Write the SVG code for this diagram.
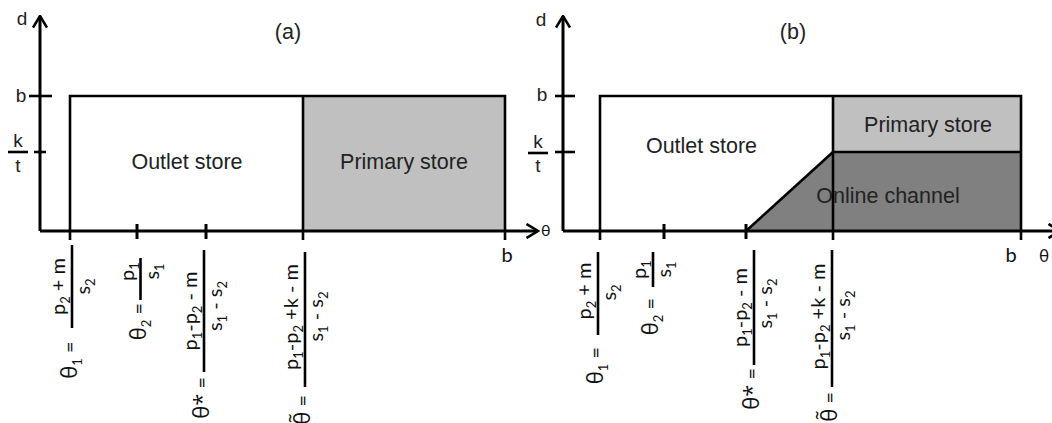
<svg xmlns="http://www.w3.org/2000/svg" width="1052" height="423" viewBox="0 0 1052 423">
<defs>
<style>
.ax{stroke:#000;stroke-width:3;fill:none}
.bd{stroke:#000;stroke-width:2.6;fill:none}
.tk{stroke:#000;stroke-width:3}
.fl{stroke:#000;stroke-width:2.6}
.lbl{font-family:"Liberation Sans",Arial,sans-serif;font-size:21.5px;fill:#222}
.axl{font-family:"Liberation Sans",Arial,sans-serif;font-size:19px;fill:#222}
.eq{font-family:Lato,"Open Sans","DejaVu Sans",sans-serif;font-size:20px;fill:#111}
.th{font-family:"Open Sans","DejaVu Sans",sans-serif;font-size:22px}
.sub{font-size:13px}
.light{fill:#c0c0c0}
.dark{fill:#808080}
</style>
<marker id="arr" viewBox="0 0 14 16" markerWidth="14" markerHeight="16" refX="12.5" refY="8" orient="auto" markerUnits="userSpaceOnUse">
<path d="M1,1 L12.5,8 L1,15" fill="none" stroke="#000" stroke-width="2.6"/>
</marker>
</defs>
<rect width="1052" height="423" fill="#fff"/>

<!-- Panel (a) -->
<g id="panel-a">
<g id="primary-a"><rect class="light" x="303" y="96" width="202" height="135"/></g>
<g id="outlet-a"><text class="lbl" x="187" y="169" text-anchor="middle">Outlet store</text></g>
<text class="lbl" x="404" y="169" text-anchor="middle">Primary store</text>
<g id="axes-a">
<line class="ax" x1="40" y1="231" x2="40" y2="16" marker-end="url(#arr)"/>
<line class="ax" x1="40" y1="231" x2="538" y2="231" marker-end="url(#arr)"/>
</g>
<g id="borders-a">
<polyline class="bd" points="70,240 70,96 505,96 505,240"/>
<line class="bd" x1="303" y1="96" x2="303" y2="240"/>
<line class="tk" x1="137" y1="224" x2="137" y2="239"/>
<line class="tk" x1="206" y1="224" x2="206" y2="239"/>
<line class="fl" x1="29" y1="96" x2="52" y2="96"/>
<line class="fl" x1="34" y1="152" x2="46" y2="152"/>
</g>
<text class="lbl" x="288" y="39" text-anchor="middle">(a)</text>
<text class="axl" x="22" y="25" text-anchor="middle">d</text>
<text class="axl" x="21" y="102" text-anchor="middle">b</text>
<text class="axl" x="18" y="147" text-anchor="middle">k</text>
<line class="fl" x1="8" y1="152" x2="28" y2="152"/>
<text class="axl" x="18" y="172" text-anchor="middle">t</text>
<text class="eq" x="541" y="236" style="font-size:16px">θ</text>
<text class="eq" x="507" y="262" text-anchor="middle">b</text>

<g id="theta1-a" transform="translate(72,286.5) rotate(-90)">
<line class="fl" x1="-41.5" y1="0" x2="41.5" y2="0"/>
<text class="eq" x="0" y="-7" text-anchor="middle">p<tspan class="sub" dy="5">2</tspan><tspan dy="-5"> + m</tspan></text>
<text class="eq" x="0" y="18" text-anchor="middle">s<tspan class="sub" dy="5">2</tspan></text>
<text class="eq" x="-55" y="5" text-anchor="end"><tspan class="th">θ</tspan><tspan class="sub" dy="5">1</tspan><tspan dy="-5"> =</tspan></text>
</g>
<g id="theta2-a" transform="translate(140.5,279) rotate(-90)">
<line class="fl" x1="-21" y1="0" x2="21" y2="0"/>
<text class="eq" x="7.5" y="-7" text-anchor="middle">p<tspan class="sub" dy="5">1</tspan></text>
<text class="eq" x="7.5" y="18" text-anchor="middle">s<tspan class="sub" dy="5">1</tspan></text>
<text class="eq" x="-24" y="5" text-anchor="end"><tspan class="th">θ</tspan><tspan class="sub" dy="5">2</tspan><tspan dy="-5"> =</tspan></text>
</g>
<g id="thetastar-a" transform="translate(204,311) rotate(-90)">
<line class="fl" x1="-61" y1="0" x2="61" y2="0"/>
<text class="eq" x="0" y="-7" text-anchor="middle">p<tspan class="sub" dy="5">1</tspan><tspan dy="-5">-p</tspan><tspan class="sub" dy="5">2</tspan><tspan dy="-5"> - m</tspan></text>
<text class="eq" x="5" y="18" text-anchor="middle">s<tspan class="sub" dy="5">1</tspan><tspan dy="-5"> - s</tspan><tspan class="sub" dy="5">2</tspan></text>
<text class="eq" x="-66" y="5" text-anchor="end"><tspan class="th">θ*</tspan> =</text>
</g>
<g id="thetatilde-a" transform="translate(305,319.5) rotate(-90)">
<line class="fl" x1="-67.5" y1="0" x2="67.5" y2="0"/>
<text class="eq" x="2.5" y="-7" text-anchor="middle">p<tspan class="sub" dy="5">1</tspan><tspan dy="-5">-p</tspan><tspan class="sub" dy="5">2</tspan><tspan dy="-5"> +k - m</tspan></text>
<text class="eq" x="3" y="18" text-anchor="middle">s<tspan class="sub" dy="5">1</tspan><tspan dy="-5"> - s</tspan><tspan class="sub" dy="5">2</tspan></text>
<text class="eq" x="-75.5" y="5" text-anchor="end"><tspan class="th">θ̃</tspan> =</text>
</g>
</g>

<!-- Panel (b) -->
<g id="panel-b">
<g id="primary-b"><rect class="light" x="833" y="96" width="188" height="56"/><text class="lbl" x="928" y="132" text-anchor="middle">Primary store</text></g>
<g id="online-b"><polygon class="dark" points="746,231 833,152 1021,152 1021,231"/><text class="lbl" x="888" y="203" text-anchor="middle">Online channel</text></g>
<g id="outlet-b"><text class="lbl" x="701.5" y="153" text-anchor="middle">Outlet store</text></g>
<g id="axes-b">
<line class="ax" x1="563" y1="231" x2="563" y2="16" marker-end="url(#arr)"/>
<line class="ax" x1="563" y1="231" x2="1060" y2="231" marker-end="url(#arr)"/>
</g>
<g id="borders-b">
<polyline class="bd" points="600,240 600,96 1021,96 1021,240"/>
<line class="bd" x1="833" y1="96" x2="833" y2="240"/>
<line class="bd" x1="833" y1="152" x2="1021" y2="152"/>
<line class="bd" x1="746" y1="231" x2="833" y2="152"/>
<line class="tk" x1="664" y1="224" x2="664" y2="239"/>
<line class="tk" x1="746" y1="224" x2="746" y2="239"/>
<line class="fl" x1="555" y1="96" x2="575" y2="96"/>
<line class="fl" x1="555" y1="152" x2="575" y2="152"/>
</g>
<text class="lbl" x="793" y="39" text-anchor="middle">(b)</text>
<text class="axl" x="541" y="26" text-anchor="middle">d</text>
<text class="axl" x="542" y="101" text-anchor="middle">b</text>
<text class="axl" x="538" y="148" text-anchor="middle">k</text>
<line class="fl" x1="528" y1="153" x2="548" y2="153"/>
<text class="axl" x="538" y="172" text-anchor="middle">t</text>
<text class="eq" x="1039" y="262" style="font-size:17px">θ</text>
<text class="eq" x="1011" y="262" text-anchor="middle">b</text>

<g id="theta1-b" transform="translate(598,293.5) rotate(-90)">
<line class="fl" x1="-41.5" y1="0" x2="41.5" y2="0"/>
<text class="eq" x="2.5" y="-7" text-anchor="middle">p<tspan class="sub" dy="5">2</tspan><tspan dy="-5"> + m</tspan></text>
<text class="eq" x="1" y="18" text-anchor="middle">s<tspan class="sub" dy="5">2</tspan></text>
<text class="eq" x="-53.5" y="5" text-anchor="end"><tspan class="th">θ</tspan><tspan class="sub" dy="5">1</tspan><tspan dy="-5"> =</tspan></text>
</g>
<g id="theta2-b" transform="translate(653,269.5) rotate(-90)">
<line class="fl" x1="-17.5" y1="0" x2="17.5" y2="0"/>
<text class="eq" x="0" y="-7" text-anchor="middle">p<tspan class="sub" dy="5">1</tspan></text>
<text class="eq" x="0" y="18" text-anchor="middle">s<tspan class="sub" dy="5">1</tspan></text>
<text class="eq" x="-28.5" y="5" text-anchor="end"><tspan class="th">θ</tspan><tspan class="sub" dy="5">2</tspan><tspan dy="-5"> =</tspan></text>
</g>
<g id="thetastar-b" transform="translate(754,307.5) rotate(-90)">
<line class="fl" x1="-57.5" y1="0" x2="57.5" y2="0"/>
<text class="eq" x="0" y="-7" text-anchor="middle">p<tspan class="sub" dy="5">1</tspan><tspan dy="-5">-p</tspan><tspan class="sub" dy="5">2</tspan><tspan dy="-5"> - m</tspan></text>
<text class="eq" x="4" y="18" text-anchor="middle">s<tspan class="sub" dy="5">1</tspan><tspan dy="-5"> - s</tspan><tspan class="sub" dy="5">2</tspan></text>
<text class="eq" x="-60.5" y="5" text-anchor="end"><tspan class="th">θ*</tspan> =</text>
</g>
<g id="thetatilde-b" transform="translate(832,318.5) rotate(-90)">
<line class="fl" x1="-68.5" y1="0" x2="68.5" y2="0"/>
<text class="eq" x="2" y="-7" text-anchor="middle">p<tspan class="sub" dy="5">1</tspan><tspan dy="-5">-p</tspan><tspan class="sub" dy="5">2</tspan><tspan dy="-5"> +k - m</tspan></text>
<text class="eq" x="3" y="18" text-anchor="middle">s<tspan class="sub" dy="5">1</tspan><tspan dy="-5"> - s</tspan><tspan class="sub" dy="5">2</tspan></text>
<text class="eq" x="-73.5" y="5" text-anchor="end"><tspan class="th">θ̃</tspan> =</text>
</g>
</g>
</svg>
